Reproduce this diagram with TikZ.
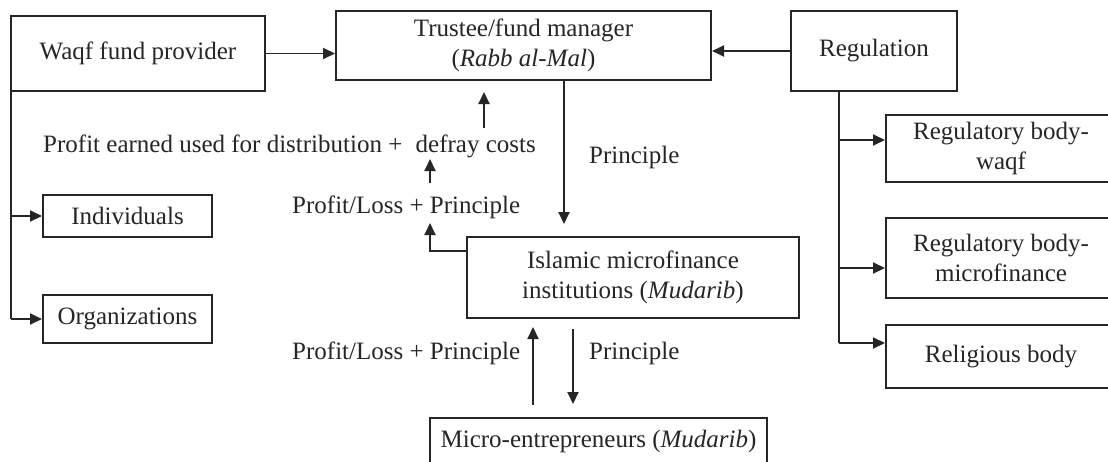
\documentclass[tikz,border=0pt]{standalone}
\usepackage{fontspec}
\setmainfont{Liberation Serif}
\usetikzlibrary{arrows.meta,calc}
\definecolor{ink}{HTML}{262626}
\begin{document}
\begin{tikzpicture}[x=1pt,y=-1pt,
  every node/.style={text=ink,font=\fontsize{25}{30}\selectfont},
  box/.style={draw=ink,line width=2pt,align=center,inner sep=0pt},
  lbl/.style={inner sep=0pt,align=center,anchor=west},
  arr/.style={draw=ink,line width=1.9pt,-{Triangle[length=12pt,width=11pt]}},
  ln/.style={draw=ink,line width=1.9pt}]
\clip (0,0) rectangle (1108,461);
\fill[white] (0,0) rectangle (1108,461);
% boxes
\node[box,minimum width=254pt,minimum height=75pt] (waqf) at (138,53.5) {Waqf fund provider};
\node[box,minimum width=375pt,minimum height=69pt] (trustee) at (523.5,45.5) {Trustee/fund manager\\(\textit{Rabb al-Mal})};
\node[box,minimum width=166pt,minimum height=80pt] (reg) at (874,51) {Regulation};
\node[box,minimum width=230pt,minimum height=67pt] (rbw) at (1001,148.5) {Regulatory body-\\waqf};
\node[box,minimum width=230pt,minimum height=80pt] (rbm) at (1001,258) {Regulatory body-\\microfinance};
\node[box,minimum width=230pt,minimum height=63pt] (rel) at (1001,356.5) {Religious body};
\node[box,minimum width=169pt,minimum height=42pt] (indiv) at (127.5,216) {Individuals};
\node[box,minimum width=169pt,minimum height=48pt] (org) at (127.5,319) {Organizations};
\node[box,minimum width=332pt,minimum height=81pt] (imfi) at (633,277.5) {Islamic microfinance\\institutions (\textit{Mudarib})};
\node[box,minimum width=337pt,minimum height=46pt] (micro) at (598.5,441) {Micro-entrepreneurs (\textit{Mudarib})};
% labels
\node[lbl] (pr1) at (589,157) {Principle};
\node[lbl] (pe) at (43,146) {Profit earned used for distribution +\hspace{7pt} defray costs};
\node[lbl] (pl1) at (292,207) {Profit/Loss + Principle};
\node[lbl] (pl2) at (292,353) {Profit/Loss + Principle};
\node[lbl] (pr2) at (589,353) {Principle};
% helper coordinates
\coordinate (wl) at (10.7,91);
\coordinate (rl) at (839,91);
\coordinate (r1) at (839,140);
\coordinate (r2) at (839,268);
\coordinate (r3) at (839,343);
\coordinate (tdown) at (564,224);
\coordinate (ileft) at (430,251);
\coordinate (pltip) at (430,223);
\coordinate (pebase) at (430,183);
\coordinate (petip) at (430,159);
\coordinate (tubase) at (484,128);
\coordinate (tutip) at (484,92);
\coordinate (mupbase) at (533,405);
\coordinate (muptip) at (533,327);
\coordinate (mdnbase) at (573,329);
\coordinate (mdntip) at (573,404);
% connectors
\draw[arr] (waqf.east) -- (waqf.east -| trustee.west);
\draw[arr] (reg.west) -- (reg.west -| trustee.east);
\draw[ln] (wl) -- (wl |- org.west);
\draw[arr] (wl |- indiv.west) -- (indiv.west);
\draw[arr] (wl |- org.west) -- (org.west);
\draw[ln] (reg.south -| rl) -- (r3);
\draw[arr] (r1) -- (r1 -| rbw.west);
\draw[arr] (r2) -- (r2 -| rbm.west);
\draw[arr] (r3) -- (r3 -| rel.west);
\draw[arr] (trustee.south -| tdown) -- (tdown);
\draw[arr] (ileft -| imfi.west) -- (ileft) -- (pltip);
\draw[arr] (pebase) -- (petip);
\draw[arr] (tubase) -- (tutip);
\draw[arr] (mupbase) -- (muptip);
\draw[arr] (mdnbase) -- (mdntip);
\end{tikzpicture}
\end{document}
